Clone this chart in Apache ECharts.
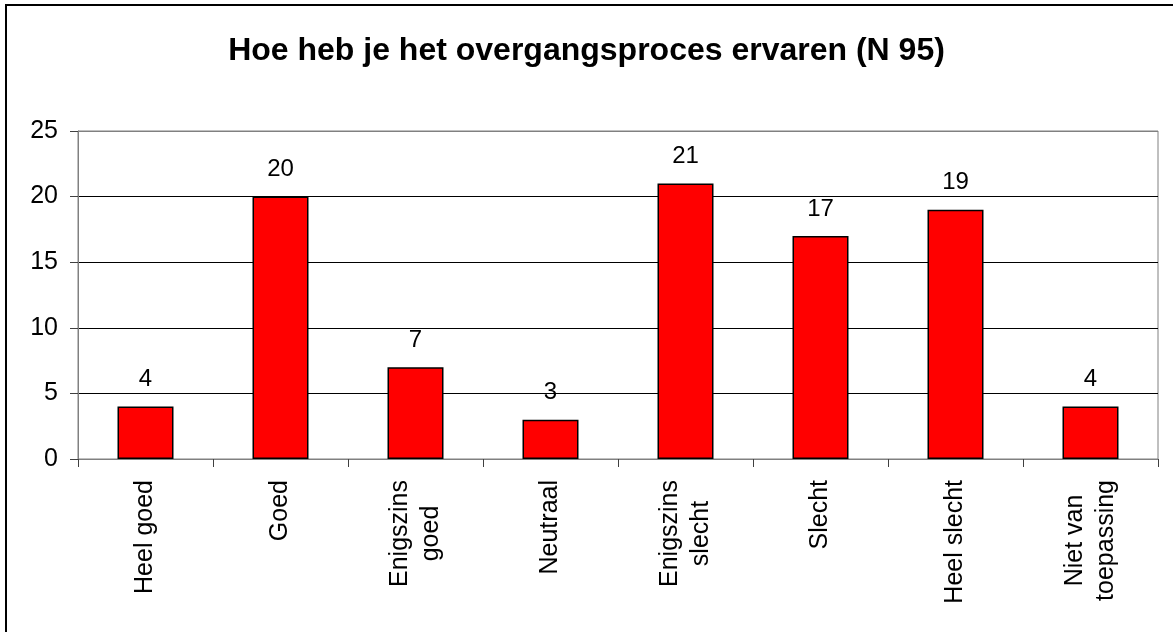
<!DOCTYPE html>
<html>
<head>
<meta charset="utf-8">
<title>Hoe heb je het overgangsproces ervaren</title>
<script src="https://cdn.jsdelivr.net/npm/echarts@6/dist/echarts.min.js"></script>
<style>
	html, body { margin: 0; padding: 0; background: #fff; }
	#chart { width: 1173px; height: 632px; }
</style>
</head>
<body>
<div id="chart"></div>
<script>
// categorieen en aantallen
var categories = ['Heel goed', 'Goed', 'Enigszins\ngoed', 'Neutraal', 'Enigszins\nslecht', 'Slecht', 'Heel slecht', 'Niet van\ntoepassing'];
var counts = [4, 20, 7, 3, 21, 17, 19, 4];
var yTicks = [0, 5, 10, 15, 20, 25];

var fontFam = 'Liberation Sans, Arial, sans-serif';

var myChart = echarts.init(document.getElementById('chart'), null, { renderer: 'canvas' });

var options = {
	backgroundColor : '#fff',
	animation : false,
	title : {
		text : 'Hoe heb je het overgangsproces ervaren (N 95)',
		left : 'center',
		top : 30,
		textStyle : {
			fontFamily : fontFam,
			fontSize : 32,
			fontWeight : 'bold',
			color : '#000'
		}
	},
	// rand om de hele figuur
	graphic : [ {
		type : 'rect',
		shape : { x : 6, y : 5, width : 1180, height : 640 },
		style : { fill : 'none', stroke : '#000', lineWidth : 2 },
		silent : true
	} ],
	grid : {
		left : 78,
		right : 15,
		top : 131,
		bottom : 173,
		show : true,
		borderColor : '#808080',
		borderWidth : 1
	},
	xAxis : [ {
		type : 'category',
		data : categories,
		axisLine : { lineStyle : { color : '#808080', width : 1 } },
		axisTick : {
			show : true,
			alignWithLabel : false,
			length : 8,
			lineStyle : { color : '#404040' }
		},
		axisLabel : {
			interval : 0,
			rotate : 90,
			margin : 21,
			fontFamily : fontFam,
			fontSize : 25,
			color : '#000',
			lineHeight : 31,
			formatter : function(v) {
				return v.split('\n').map(function(s) {
					return '{c|' + s + '}';
				}).join('\n');
			},
			rich : {
				c : {
					align : 'center',
					fontFamily : fontFam,
					fontSize : 25,
					lineHeight : 31,
					color : '#000'
				}
			}
		}
	} ],
	yAxis : [ {
		type : 'value',
		min : yTicks[0],
		max : yTicks[yTicks.length - 1],
		interval : 5,
		axisLine : { show : true, lineStyle : { color : '#808080', width : 1 } },
		axisTick : { show : true, length : 8, lineStyle : { color : '#404040' } },
		axisLabel : {
			margin : 20,
			fontFamily : fontFam,
			fontSize : 25,
			color : '#000'
		},
		splitLine : {
			show : true,
			lineStyle : {
				color : [ '#808080', '#000', '#000', '#000', '#000', '#808080' ],
				width : 1
			}
		}
	} ],
	series : [ {
		name : 'Aantal',
		type : 'bar',
		data : counts,
		barWidth : 56,
		itemStyle : {
			color : '#ff0000',
			borderColor : '#000',
			borderWidth : 1.5
		},
		label : {
			show : true,
			position : 'top',
			distance : 15,
			fontFamily : fontFam,
			fontSize : 24,
			color : '#000'
		}
	} ]
};

myChart.setOption(options);
</script>
</body>
</html>
